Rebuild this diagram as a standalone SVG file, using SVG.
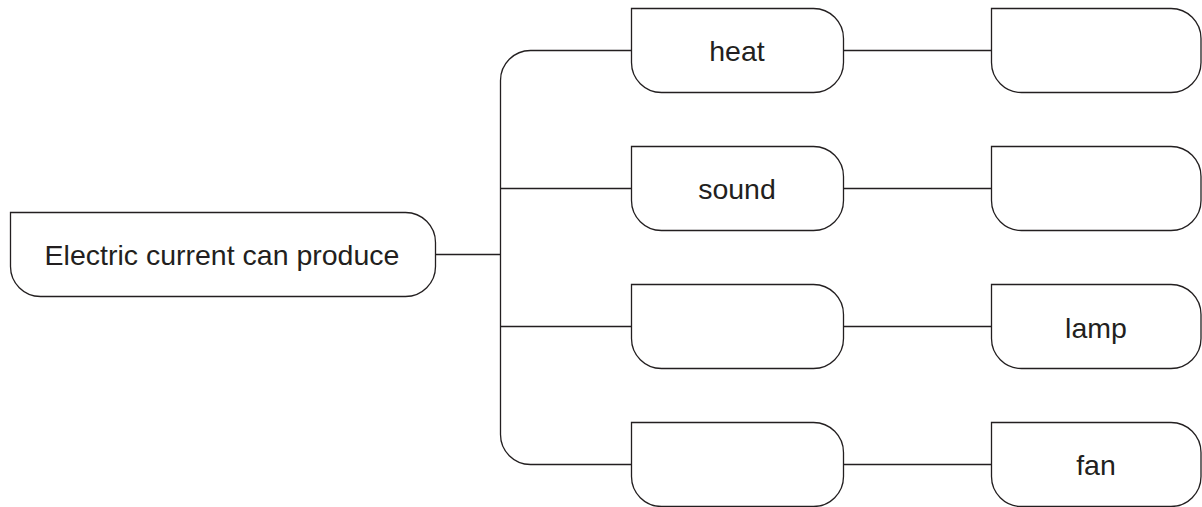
<svg xmlns="http://www.w3.org/2000/svg" width="1202" height="507" viewBox="0 0 1202 507">
<style>
.box{fill:#fff;stroke:#231f20;stroke-width:1.3}
.ln{fill:none;stroke:#231f20;stroke-width:1.3}
.t{font-family:"Liberation Sans",Arial,sans-serif;font-size:28.5px;fill:#231f20;text-anchor:middle}
</style>
<rect width="1202" height="507" fill="#fff"/>
<g id="connectors">
<path class="ln" d="M435 254.5H500.5"/>
<path class="ln" d="M631 50.5H530.5A30 30 0 0 0 500.5 80.5V434.5A30 30 0 0 0 530.5 464.5H631"/>
<path class="ln" d="M500.5 188.5H631M500.5 326.5H631"/>
<path class="ln" d="M843 50.5H991M843 188.5H991M843 326.5H991M843 464.5H991"/>
</g>
<g id="root"><path class="box" d="M10.5 212.5H405.5A30 30 0 0 1 435.5 242.5V266.5A30 30 0 0 1 405.5 296.5H40.5A30 30 0 0 1 10.5 266.5Z"/><text class="t" x="222" y="265">Electric current can produce</text></g>
<g id="heat"><path class="box" d="M631.5 8.5H813.5A30 30 0 0 1 843.5 38.5V62.5A30 30 0 0 1 813.5 92.5H661.5A30 30 0 0 1 631.5 62.5Z"/><text class="t" x="737" y="61">heat</text></g>
<g id="sound"><path class="box" d="M631.5 146.5H813.5A30 30 0 0 1 843.5 176.5V200.5A30 30 0 0 1 813.5 230.5H661.5A30 30 0 0 1 631.5 200.5Z"/><text class="t" x="737" y="199">sound</text></g>
<g id="blank3"><path class="box" d="M631.5 284.5H813.5A30 30 0 0 1 843.5 314.5V338.5A30 30 0 0 1 813.5 368.5H661.5A30 30 0 0 1 631.5 338.5Z"/></g>
<g id="blank4"><path class="box" d="M631.5 422.5H813.5A30 30 0 0 1 843.5 452.5V476.5A30 30 0 0 1 813.5 506.5H661.5A30 30 0 0 1 631.5 476.5Z"/></g>
<g id="heat-ex"><path class="box" d="M991.5 8.5H1171A30 30 0 0 1 1201 38.5V62.5A30 30 0 0 1 1171 92.5H1021.5A30 30 0 0 1 991.5 62.5Z"/></g>
<g id="sound-ex"><path class="box" d="M991.5 146.5H1171A30 30 0 0 1 1201 176.5V200.5A30 30 0 0 1 1171 230.5H1021.5A30 30 0 0 1 991.5 200.5Z"/></g>
<g id="lamp"><path class="box" d="M991.5 284.5H1171A30 30 0 0 1 1201 314.5V338.5A30 30 0 0 1 1171 368.5H1021.5A30 30 0 0 1 991.5 338.5Z"/><text class="t" x="1096" y="338">lamp</text></g>
<g id="fan"><path class="box" d="M991.5 422.5H1171A30 30 0 0 1 1201 452.5V476.5A30 30 0 0 1 1171 506.5H1021.5A30 30 0 0 1 991.5 476.5Z"/><text class="t" x="1096" y="475">fan</text></g>
</svg>
